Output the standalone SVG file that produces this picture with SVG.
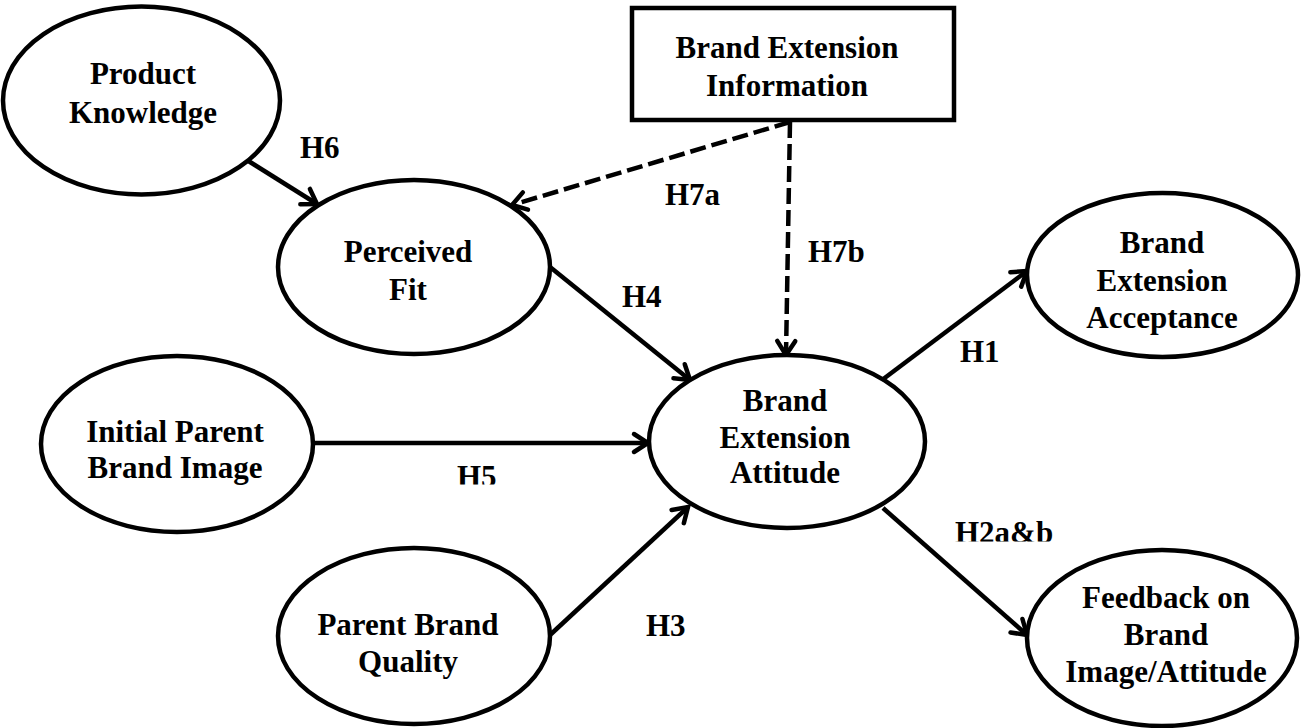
<svg xmlns="http://www.w3.org/2000/svg" width="1304" height="728" viewBox="0 0 1304 728">
<style>
.node{fill:#fff;stroke:#000;stroke-width:4.5}
.t{font-family:"Liberation Serif","Times New Roman",serif;font-weight:bold;font-size:31px;fill:#000;text-anchor:middle}
.lbl{font-family:"Liberation Serif","Times New Roman",serif;font-weight:bold;font-size:31px;fill:#000}
.c{fill:none;stroke:#000;stroke-width:4.5;marker-end:url(#arr)}
.d{stroke-dasharray:16 6}
</style>
<defs>
<marker id="arr" markerUnits="userSpaceOnUse" markerWidth="24" markerHeight="24" refX="17" refY="12" orient="auto" overflow="visible">
<path d="M3,3 L17,12 L3,21" fill="none" stroke="#000" stroke-width="4.5" stroke-linecap="round" stroke-linejoin="miter"/>
</marker>
<clipPath id="clipH5"><rect x="440" y="450" width="80" height="34.5"/></clipPath>
<clipPath id="clipH2"><rect x="940" y="505" width="130" height="36.5"/></clipPath>
</defs>
<rect width="1304" height="728" fill="#fff"/>
<g id="connectors">
<line class="c" x1="242" y1="157" x2="317" y2="204"/>
<line class="c d" x1="790" y1="122" x2="512" y2="205"/>
<line class="c d" x1="790" y1="122" x2="786" y2="355"/>
<line class="c" x1="550" y1="267" x2="690" y2="380"/>
<line class="c" x1="313" y1="443" x2="648" y2="443"/>
<line class="c" x1="550" y1="635" x2="688" y2="507"/>
<line class="c" x1="882" y1="380" x2="1027" y2="271"/>
<line class="c" x1="883" y1="508" x2="1027" y2="635"/>
</g>
<g id="labels">
<text class="lbl" x="300" y="158">H6</text>
<text class="lbl" x="665" y="205">H7a</text>
<text class="lbl" x="808" y="262">H7b</text>
<text class="lbl" x="622" y="307">H4</text>
<text class="lbl" x="960" y="362">H1</text>
<text class="lbl" x="457" y="487" clip-path="url(#clipH5)">H5</text>
<text class="lbl" x="955" y="542.5" clip-path="url(#clipH2)">H2a&amp;b</text>
<text class="lbl" x="646" y="636">H3</text>
</g>
<g id="product-knowledge">
<ellipse class="node" cx="141.5" cy="100.5" rx="138.5" ry="94"/>
<text class="t"><tspan x="143" y="84">Product</tspan><tspan x="143" y="123">Knowledge</tspan></text>
</g>
<g id="brand-extension-information">
<rect class="node" x="632" y="8" width="322" height="112"/>
<text class="t"><tspan x="787" y="58">Brand Extension</tspan><tspan x="787" y="96">Information</tspan></text>
</g>
<g id="perceived-fit">
<ellipse class="node" cx="414" cy="267" rx="136" ry="87"/>
<text class="t"><tspan x="408" y="262">Perceived</tspan><tspan x="408" y="300">Fit</tspan></text>
</g>
<g id="initial-parent-brand-image">
<ellipse class="node" cx="177" cy="444" rx="136" ry="88"/>
<text class="t"><tspan x="175" y="442">Initial Parent</tspan><tspan x="175" y="478">Brand Image</tspan></text>
</g>
<g id="parent-brand-quality">
<ellipse class="node" cx="414" cy="636" rx="136" ry="88"/>
<text class="t"><tspan x="408" y="635">Parent Brand</tspan><tspan x="408" y="672">Quality</tspan></text>
</g>
<g id="brand-extension-attitude">
<ellipse class="node" cx="787" cy="441.5" rx="138" ry="86.5"/>
<text class="t"><tspan x="785" y="411">Brand</tspan><tspan x="785" y="448">Extension</tspan><tspan x="785" y="483">Attitude</tspan></text>
</g>
<g id="brand-extension-acceptance">
<ellipse class="node" cx="1162.5" cy="275" rx="135.5" ry="82"/>
<text class="t"><tspan x="1162" y="253">Brand</tspan><tspan x="1162" y="291">Extension</tspan><tspan x="1162" y="328">Acceptance</tspan></text>
</g>
<g id="feedback-on-brand-image-attitude">
<ellipse class="node" cx="1162" cy="638" rx="135" ry="88"/>
<text class="t"><tspan x="1166" y="608">Feedback on</tspan><tspan x="1166" y="645">Brand</tspan><tspan x="1166" y="682">Image/Attitude</tspan></text>
</g>
</svg>
